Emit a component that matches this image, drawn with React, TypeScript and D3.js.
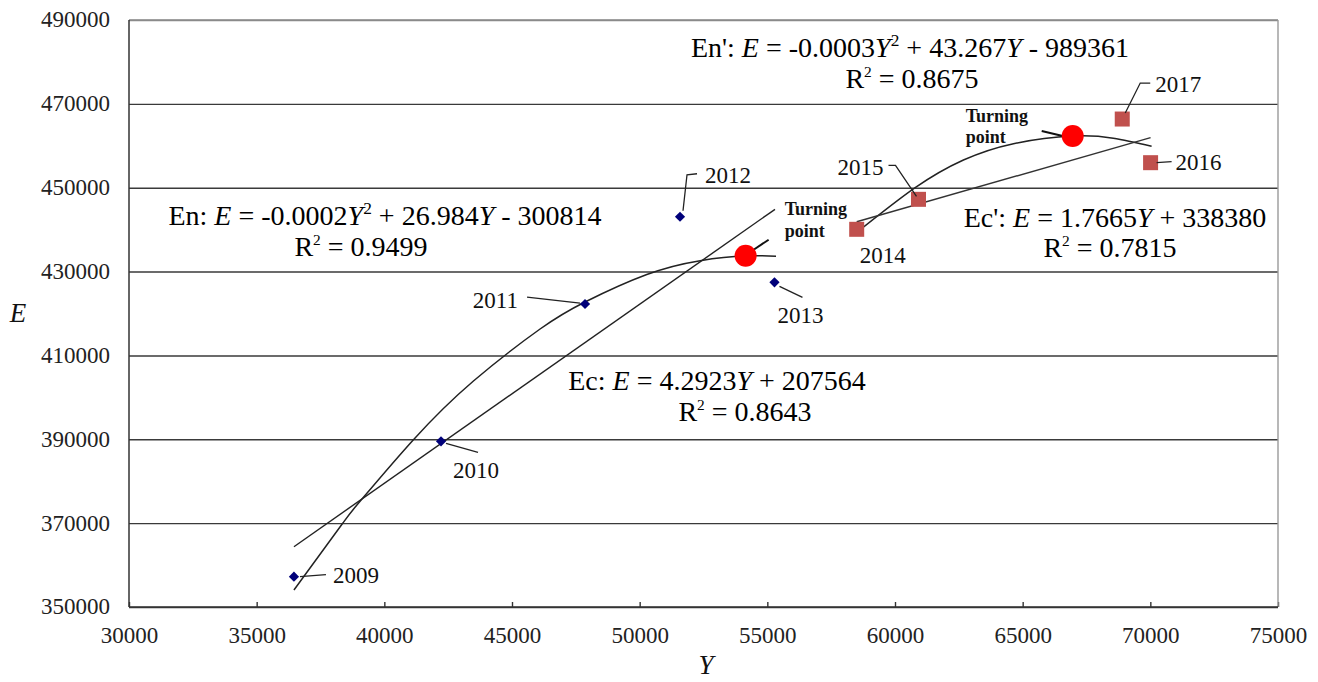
import React, { useEffect, useRef } from 'react';
import * as d3 from 'd3';

const WIDTH = 1318;
const HEIGHT = 682;
const plot = { left: 129, right: 1278, top: 20, bottom: 607 };

// tick values
const xTicks = [30000, 35000, 40000, 45000, 50000, 55000, 60000, 65000, 70000, 75000];
const yTicks = [350000, 370000, 390000, 410000, 430000, 450000, 470000, 490000];

// observations (Y = income, E = emission)
const yearsEarly = ['2009', '2010', '2011', '2012', '2013'];
const incomeEarly = [36460, 42220, 47860, 51580, 55280];
const emissionEarly = [357230, 389520, 422260, 443080, 427440];

const yearsLate = ['2014', '2015', '2016', '2017'];
const incomeLate = [58500, 60920, 70010, 68900];
const emissionLate = [440080, 447230, 455970, 466380];

// turning points
const turnIncome = [54150, 66960];
const turnEmission = [433780, 462330];

// trend lines
const enCurveIncome = [36460, 38370, 39050, 41140, 43490, 46100, 47860, 50280, 52370, 54150, 55340];
const enCurveEmission = [354050, 369960, 375200, 389900, 403900, 416300, 422750, 429300, 432600, 433750, 433650];
const enpCurveIncome = [58500, 60790, 62680, 64640, 66960, 68550, 70050];
const enpCurveEmission = [439300, 450000, 456600, 460500, 462330, 461800, 459900];
const ecLineIncome = [36460, 55300];
const ecLineEmission = [364380, 444850];
const ecpLineIncome = [58500, 70010];
const ecpLineEmission = [441890, 461930];

// label placement (pixel offsets from the point)
const labelLayout: Record<string, { dx: number; dy: number; anchor: string; leader: number[][] }> = {
  '2009': { dx: 39, dy: 6, anchor: 'start', leader: [[6, 0], [32, -2]] },
  '2010': { dx: 12, dy: 37, anchor: 'start', leader: [[5, 2], [37, 11]] },
  '2011': { dx: -67, dy: 4, anchor: 'end', leader: [[-58, -7], [-5, -1]] },
  '2012': { dx: 25, dy: -34, anchor: 'start', leader: [[3, -6], [7, -42], [17, -43]] },
  '2013': { dx: 3, dy: 41, anchor: 'start', leader: [[5, 4], [28, 15]] },
  '2014': { dx: 3, dy: 34, anchor: 'start', leader: [] },
  '2015': { dx: -35, dy: -24, anchor: 'end', leader: [[-30, -34], [-23, -34], [-2, -3]] },
  '2016': { dx: 25, dy: 7, anchor: 'start', leader: [[6, 0], [21, -1]] },
  '2017': { dx: 33, dy: -27, anchor: 'start', leader: [[3, -6], [18, -36], [28, -36]] },
};
const turnLayout = [
  { dx: 39, dy1: -41, dy2: -19, leader: [[8, -6], [23, -16]] },
  { dx: -107, dy1: -14, dy2: 7, leader: [[-31, -5], [-10, 0]] },
];

const FONT = '"Liberation Serif", "Times New Roman", serif';
const EQ_SIZE = 28;
const LIFT = EQ_SIZE * 0.4;

function Equation({ x, y, kind, coef }: { x: number; y: number; kind: string; coef: string[] }) {
  return (
    <text x={x} y={y} textAnchor="middle" fontFamily={FONT} fontSize={EQ_SIZE} fill="#000">
      <tspan>{kind}: </tspan>
      <tspan fontStyle="italic">E</tspan>
      {coef.length === 3 ? (
        <>
          <tspan>{` = ${coef[0]}`}</tspan>
          <tspan fontStyle="italic">Y</tspan>
          <tspan fontSize={EQ_SIZE * 0.62} dy={-LIFT}>2</tspan>
          <tspan dy={LIFT}>{` + ${coef[1]}`}</tspan>
          <tspan fontStyle="italic">Y</tspan>
          <tspan>{` - ${coef[2]}`}</tspan>
        </>
      ) : (
        <>
          <tspan>{` = ${coef[0]}`}</tspan>
          <tspan fontStyle="italic">Y</tspan>
          <tspan>{` + ${coef[1]}`}</tspan>
        </>
      )}
    </text>
  );
}

function RSquared({ x, y, value }: { x: number; y: number; value: string }) {
  return (
    <text x={x} y={y} textAnchor="middle" fontFamily={FONT} fontSize={EQ_SIZE} fill="#000">
      <tspan>R</tspan>
      <tspan fontSize={EQ_SIZE * 0.55} dy={-LIFT}>2</tspan>
      <tspan dy={LIFT}>{` = ${value}`}</tspan>
    </text>
  );
}

export default function App() {
  const xAxisRef = useRef<SVGGElement>(null);
  const yAxisRef = useRef<SVGGElement>(null);

  const x = d3.scaleLinear().domain([30000, 75000]).range([plot.left, plot.right]);
  const y = d3.scaleLinear().domain([350000, 490000]).range([plot.bottom, plot.top]);

  useEffect(() => {
    const xg = d3.select(xAxisRef.current);
    xg.call(d3.axisBottom(x).tickValues(xTicks).tickSize(-5).tickFormat((d) => String(d)) as any);
    xg.select('.domain').remove();
    xg.selectAll('line').attr('stroke', '#333').attr('stroke-width', 1.4);
    xg.selectAll('text')
      .attr('y', 36)
      .attr('dy', 0)
      .attr('font-family', FONT)
      .attr('font-size', 23)
      .attr('fill', '#222');

    const yg = d3.select(yAxisRef.current);
    yg.call(d3.axisLeft(y).tickValues(yTicks).tickSize(-(plot.right - plot.left)).tickPadding(19).tickFormat((d) => String(d)) as any);
    yg.select('.domain').remove();
    yg.selectAll('line')
      .attr('stroke', (d: any) => (d === 490000 ? '#8a8a8a' : '#3a3a3a'))
      .attr('stroke-width', 1.4);
    yg.selectAll('text')
      .attr('dy', '0.3em')
      .attr('font-family', FONT)
      .attr('font-size', 23)
      .attr('fill', '#222');
  }, []);

  const line = d3
    .line<[number, number]>()
    .x((d) => x(d[0]))
    .y((d) => y(d[1]));
  const smooth = d3
    .line<[number, number]>()
    .x((d) => x(d[0]))
    .y((d) => y(d[1]))
    .curve(d3.curveNatural);

  const zip = (a: number[], b: number[]) => a.map((v, i) => [v, b[i]] as [number, number]);

  const diamond = d3.symbol().type(d3.symbolSquare).size(52)();

  const yearLabel = (yr: string, px: number, py: number) => {
    const l = labelLayout[yr];
    const pts = l.leader.map(([dx, dy]) => `${px + dx},${py + dy}`).join(' ');
    return (
      <g key={yr}>
        {l.leader.length > 0 && <polyline points={pts} fill="none" stroke="#222" strokeWidth={1.3} />}
        <text x={px + l.dx} y={py + l.dy} textAnchor={l.anchor} fontFamily={FONT} fontSize={23} fill="#111">
          {yr}
        </text>
      </g>
    );
  };

  return (
    <svg width={WIDTH} height={HEIGHT} style={{ position: 'absolute', left: 0, top: 0, background: '#fff' }}>
      <rect width={WIDTH} height={HEIGHT} fill="#fff" />
      <g ref={yAxisRef} transform={`translate(${plot.left},0)`} />
      <g ref={xAxisRef} transform={`translate(0,${plot.bottom})`} />

      {/* frame */}
      <line x1={plot.left} x2={plot.right} y1={plot.top} y2={plot.top} stroke="#8a8a8a" strokeWidth={1.4} />
      <line x1={plot.right} x2={plot.right} y1={plot.top} y2={plot.bottom} stroke="#9a9a9a" strokeWidth={1.4} />
      <line x1={plot.left} x2={plot.left} y1={plot.top} y2={plot.bottom} stroke="#333" strokeWidth={1.5} />
      <line x1={plot.left} x2={plot.right} y1={plot.bottom} y2={plot.bottom} stroke="#333" strokeWidth={1.5} />

      {/* trend lines */}
      <path d={smooth(zip(enCurveIncome, enCurveEmission)) || ''} fill="none" stroke="#222" strokeWidth={1.5} />
      <path d={line(zip(ecLineIncome, ecLineEmission)) || ''} fill="none" stroke="#222" strokeWidth={1.4} />
      <path d={smooth(zip(enpCurveIncome, enpCurveEmission)) || ''} fill="none" stroke="#222" strokeWidth={1.5} />
      <path d={line(zip(ecpLineIncome, ecpLineEmission)) || ''} fill="none" stroke="#333" strokeWidth={1.4} />

      {/* observations */}
      {yearsEarly.map((yr, i) => (
        <path
          key={yr}
          d={diamond || ''}
          transform={`translate(${x(incomeEarly[i])},${y(emissionEarly[i])}) rotate(45)`}
          fill="#00007a"
        />
      ))}
      {yearsLate.map((yr, i) => (
        <rect key={yr} x={x(incomeLate[i]) - 7.5} y={y(emissionLate[i]) - 7.5} width={15} height={15} fill="#c0504d" />
      ))}
      {yearsEarly.map((yr, i) => yearLabel(yr, x(incomeEarly[i]), y(emissionEarly[i])))}
      {yearsLate.map((yr, i) => yearLabel(yr, x(incomeLate[i]), y(emissionLate[i])))}

      {/* turning points */}
      {turnIncome.map((v, i) => {
        const cx = x(v);
        const cy = y(turnEmission[i]);
        const t = turnLayout[i];
        return (
          <g key={`tp${i}`}>
            <polyline
              points={t.leader.map(([dx, dy]) => `${cx + dx},${cy + dy}`).join(' ')}
              fill="none"
              stroke="#111"
              strokeWidth={2}
            />
            <circle cx={cx} cy={cy} r={11} fill="#ff0000" />
            <text x={cx + t.dx} y={cy + t.dy1} fontFamily={FONT} fontWeight="bold" fontSize={18} fill="#111">Turning</text>
            <text x={cx + t.dx} y={cy + t.dy2} fontFamily={FONT} fontWeight="bold" fontSize={18} fill="#111">point</text>
          </g>
        );
      })}

      {/* equations */}
      <Equation x={385} y={225} kind="En" coef={['-0.0002', '26.984', '300814']} />
      <RSquared x={361} y={256} value="0.9499" />
      <Equation x={717} y={390} kind="Ec" coef={['4.2923', '207564']} />
      <RSquared x={745} y={421} value="0.8643" />
      <Equation x={910} y={57} kind="En'" coef={['-0.0003', '43.267', '989361']} />
      <RSquared x={912} y={88} value="0.8675" />
      <Equation x={1115} y={227} kind="Ec'" coef={['1.7665', '338380']} />
      <RSquared x={1110} y={257} value="0.7815" />

      {/* axis titles */}
      <text x={18} y={322} textAnchor="middle" fontFamily={FONT} fontStyle="italic" fontSize={27} fill="#111">E</text>
      <text x={706} y={674} textAnchor="middle" fontFamily={FONT} fontStyle="italic" fontSize={27} fill="#111">Y</text>
    </svg>
  );
}
